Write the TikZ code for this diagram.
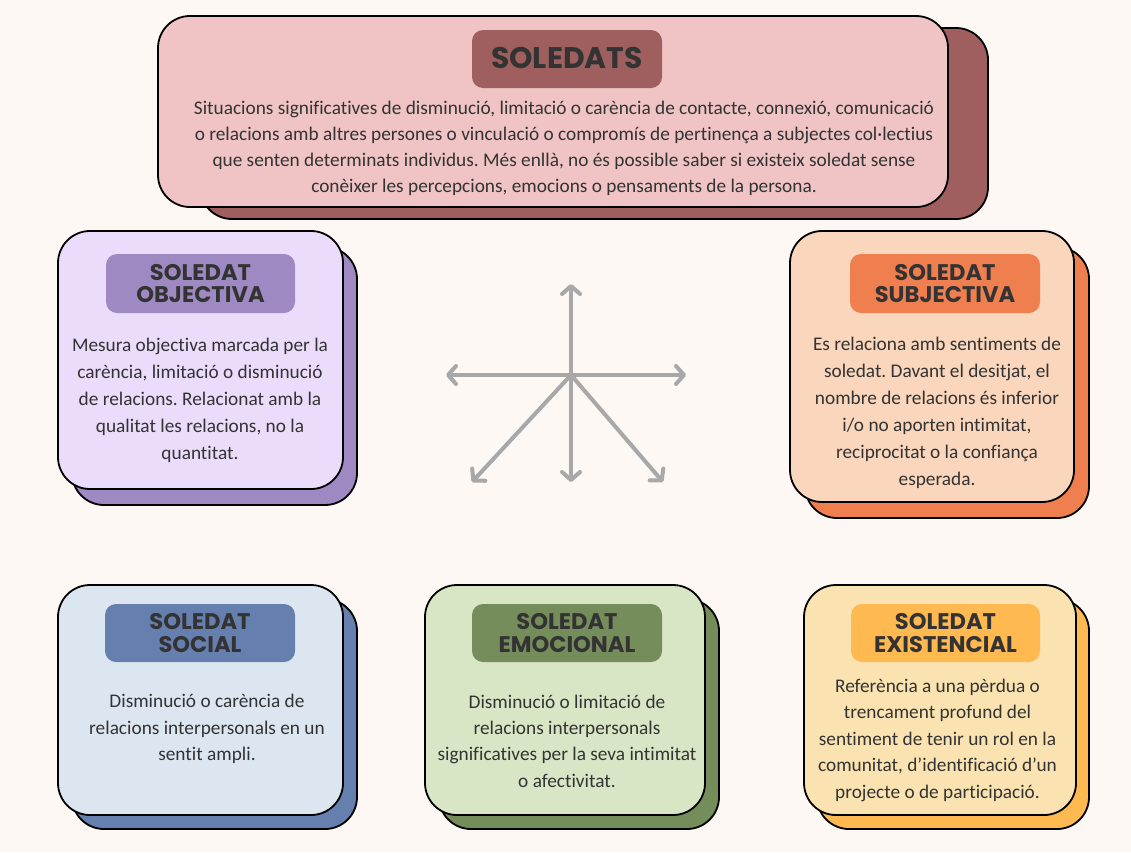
\documentclass[tikz,border=0pt]{standalone}
\usepackage{fontspec}
\setmainfont{Carlito}[Ligatures=NoCommon]
\newfontfamily\titlefont{Poppins}
\usetikzlibrary{arrows.meta}
\frenchspacing
\definecolor{bgc}{HTML}{FDF8F4}
\definecolor{txt}{HTML}{333333}
\definecolor{topF}{HTML}{F0C4C4}\definecolor{topS}{HTML}{A05F5F}
\definecolor{objF}{HTML}{ECDCFB}\definecolor{objS}{HTML}{9F89C2}
\definecolor{subF}{HTML}{F9D6BC}\definecolor{subS}{HTML}{F07F4F}
\definecolor{socF}{HTML}{DCE6F1}\definecolor{socS}{HTML}{6580AE}
\definecolor{emoF}{HTML}{D9E6C6}\definecolor{emoS}{HTML}{758C5B}
\definecolor{exiF}{HTML}{FAE3B1}\definecolor{exiS}{HTML}{FFB951}
\definecolor{arr}{HTML}{A8A8A8}
\tikzset{
  card/.style={draw=black, line width=1.8pt, rounded corners=32pt, inner sep=0pt},
  pill/.style={rounded corners=11pt, inner sep=0pt},
  ttl/.style={font=\titlefont\bfseries\fontsize{22.6}{22.5}\selectfont, text=txt, align=center, inner sep=0pt},
  body/.style={font=\fontsize{19.3}{27}\selectfont, text=txt, align=center, inner sep=0pt},
  arrline/.style={draw=arr, line width=4pt, line cap=round, -{Straight Barb[length=8pt,width=18pt,line width=4pt,round]}}
}
\begin{document}
\begin{tikzpicture}[x=1pt,y=-1pt]
\fill[bgc] (0,0) rectangle (1131,852);
\useasboundingbox (0,0) rectangle (1131,852);
% top
\node[card, fill=topS, minimum width=788pt, minimum height=191pt] (topsh) at (594,123.5) {};
\node[card, fill=topF, minimum width=790pt, minimum height=191pt] (top) at (553,111.5) {};
\node[pill, fill=topS, minimum width=190pt, minimum height=58pt] (toppill) at (567,59) {};
\node[ttl, font=\titlefont\bfseries\fontsize{29.8}{29.8}\selectfont] (toptitle) at (567,58) {SOLEDATS};
\node[body, font=\fontsize{19.3}{26}\selectfont] (toptext) at (564,148) {Situacions significatives de disminució, limitació o carència de contacte, connexió, comunicació\\ o relacions amb altres persones o vinculació o compromís de pertinença a subjectes col·lectius\\ que senten determinats individus. Més enllà, no és possible saber si existeix soledat sense\\ conèixer les percepcions, emocions o pensaments de la persona.};
% objective
\node[card, fill=objS, minimum width=285pt, minimum height=258pt] (objsh) at (214.5,376) {};
\node[card, fill=objF, minimum width=285pt, minimum height=258pt] (obj) at (200.5,360) {};
\node[pill, fill=objS, minimum width=189pt, minimum height=59pt] (objpill) at (200.5,283.5) {};
\node[ttl] (objtitle) at (200.5,283.5) {SOLEDAT\\OBJECTIVA};
\node[body] (objtext) at (200,400) {Mesura objectiva marcada per la\\ carència, limitació o disminució\\ de relacions. Relacionat amb la\\ qualitat les relacions, no la\\ quantitat.};
% subjective
\node[card, fill=subS, minimum width=284pt, minimum height=271pt] (subsh) at (947,382.5) {};
\node[card, fill=subF, minimum width=284pt, minimum height=271pt] (sub) at (932,366.5) {};
\node[pill, fill=subS, minimum width=190pt, minimum height=59pt] (subpill) at (945,283.5) {};
\node[ttl] (subtitle) at (945,283.5) {SOLEDAT\\SUBJECTIVA};
\node[body] (subtext) at (937,413) {Es relaciona amb sentiments de\\ soledat. Davant el desitjat, el\\ nombre de relacions és inferior\\ i/o no aporten intimitat,\\ reciprocitat o la confiança\\ esperada.};
% social
\node[card, fill=socS, minimum width=285pt, minimum height=230pt] (socsh) at (214.5,714) {};
\node[card, fill=socF, minimum width=285pt, minimum height=230pt] (soc) at (200.5,700) {};
\node[pill, fill=socS, minimum width=190pt, minimum height=58pt] (socpill) at (200,633) {};
\node[ttl] (soctitle) at (200,633) {SOLEDAT\\SOCIAL};
\node[body, font=\fontsize{19.3}{26.5}\selectfont] (soctext) at (207,729) {Disminució o carència de\\ relacions interpersonals en un\\ sentit ampli.};
% emotional
\node[card, fill=emoS, minimum width=280pt, minimum height=230pt] (emosh) at (579,714) {};
\node[card, fill=emoF, minimum width=280pt, minimum height=230pt] (emo) at (565,700) {};
\node[pill, fill=emoS, minimum width=190pt, minimum height=58pt] (emopill) at (567,633) {};
\node[ttl] (emotitle) at (567,633) {SOLEDAT\\EMOCIONAL};
\node[body, font=\fontsize{19.3}{26.3}\selectfont] (emotext) at (567,741) {Disminució o limitació de\\ relacions interpersonals\\ significatives per la seva intimitat\\ o afectivitat.};
% existential
\node[card, fill=exiS, minimum width=272pt, minimum height=230pt] (exish) at (953,714) {};
\node[card, fill=exiF, minimum width=272pt, minimum height=230pt] (exi) at (940,700) {};
\node[pill, fill=exiS, minimum width=189pt, minimum height=58pt] (exipill) at (945.5,633) {};
\node[ttl] (exititle) at (945.5,633) {SOLEDAT\\EXISTENCIAL};
\node[body, font=\fontsize{19.3}{26.5}\selectfont] (exitext) at (937.5,740) {Referència a una pèrdua o\\ trencament profund del\\ sentiment de tenir un rol en la\\ comunitat, d’identificació d’un\\ projecte o de participació.};
% arrows
\coordinate (c) at (571,375);
\coordinate (aU) at (571,284);
\coordinate (aL) at (446,375);
\coordinate (aR) at (686,375);
\coordinate (aD) at (571,482);
\coordinate (aDL) at (472,482);
\coordinate (aDR) at (663,482);
\foreach \t in {aU,aL,aR,aD,aDL,aDR} \draw[arrline] (c) -- (\t);
\end{tikzpicture}
\end{document}
